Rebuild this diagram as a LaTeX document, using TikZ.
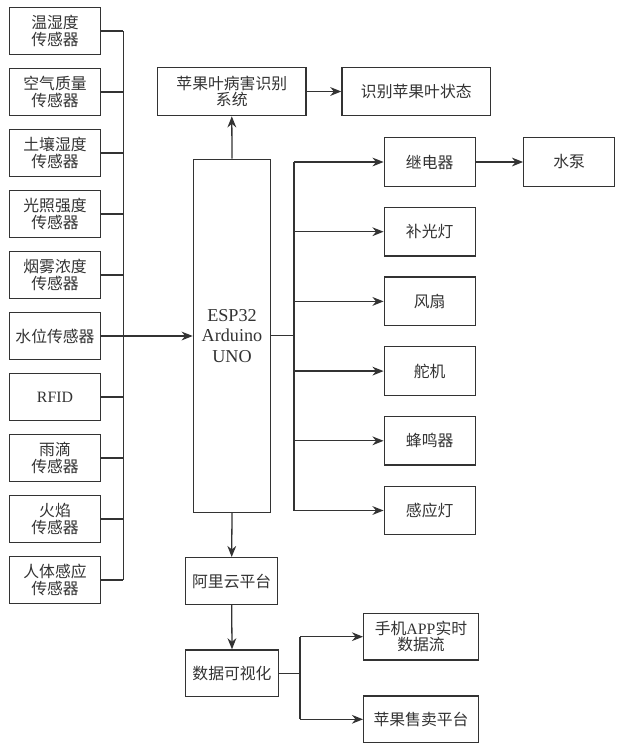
\documentclass[tikz,border=0pt]{standalone}
\usepackage{fontspec}
\setmainfont{Liberation Serif}
\newfontfamily\cjk{Noto Sans CJK SC}
\usetikzlibrary{arrows,arrows.meta}
\definecolor{ink}{HTML}{333333}

\begin{document}
\begin{tikzpicture}[x=0.03cm, y=-0.03cm, >={Stealth[length=9.5pt,width=7.5pt]},
    box/.style={draw=ink, line width=1.1pt, text=ink, align=center, inner sep=0pt,
      font=\cjk\fontsize{13.5}{14}\selectfont},
    sensor/.style={box, minimum width=2.73cm, minimum height=1.43cm},
    act/.style={box, minimum width=2.73cm, minimum height=1.46cm},
    wire/.style={draw=ink, line width=1.1pt}]

  \useasboundingbox[fill=white] (0,0) rectangle (618,750);

  % sensors on the left
  \foreach \t [count=\i] in {{温湿度\\传感器}, {空气质量\\传感器}, {土壤湿度\\传感器},
      {光照强度\\传感器}, {烟雾浓度\\传感器}, {水位传感器}, {\rmfamily RFID},
      {雨滴\\传感器}, {火焰\\传感器}, {人体感应\\传感器}}
    \node[sensor] (S\i) at (55,{31+61*(\i-1)}) {\t};

  \node[box, minimum width=2.32cm, minimum height=10.59cm,
    font=\rmfamily\fontsize{15.5}{17.5}\selectfont] (MCU) at (232,335.8)
    {ESP32\\Arduino\\UNO};

  \node[box, minimum width=4.45cm, minimum height=1.45cm] (ID) at (231.8,91.5)
    {苹果叶病害识别\\系统};
  \node[box, minimum width=4.46cm, minimum height=1.45cm] (ST) at (416.3,91.5)
    {识别苹果叶状态};

  % actuators on the right
  \foreach \t [count=\i] in {继电器, 补光灯, 风扇, 舵机, 蜂鸣器, 感应灯}
    \node[act] (A\i) at (429.7,{162+69.7*(\i-1)}) {\t};
  \node[act] (PUMP) at (569.2,162) {水泵};

  \node[box, minimum width=2.76cm, minimum height=1.4cm] (CLD) at (231.7,581) {阿里云平台};
  \node[box, minimum width=2.78cm, minimum height=1.4cm] (VIS) at (232,673.3) {数据可视化};
  \node[box, minimum width=3.44cm, minimum height=1.4cm] (APP) at (421,636.7)
    {手机{\rmfamily APP}实时\\数据流};
  \node[box, minimum width=3.44cm, minimum height=1.4cm] (SALE) at (421,719.3)
    {苹果售卖平台};

  \coordinate (LB) at (123.3,0);
  \coordinate (RB) at (294,0);
  \coordinate (VB) at (300,0);

  \foreach \i in {1,...,10}
    \draw[wire] (S\i.east) -- (S\i.east -| LB);
  \draw[wire] (S1.east -| LB) -- (S10.east -| LB);
  \draw[wire,->] (S6.east) -- (S6.east -| MCU.west);

  \draw[wire,->] (MCU.north) -- (ID.south);
  \draw[wire,->] (ID.east) -- (ST.west);

  \draw[wire] (MCU.east) -- (MCU.east -| RB);
  \draw[wire] (A1.west -| RB) -- (A6.west -| RB);
  \foreach \i in {1,...,6}
    \draw[wire,->] (A\i.west -| RB) -- (A\i.west);
  \draw[wire,->] (A1.east) -- (PUMP.west);

  \draw[wire,->] (MCU.south) -- (CLD.north);
  \draw[wire,->] (CLD.south) -- (VIS.north);
  \draw[wire] (VIS.east) -- (VIS.east -| VB);
  \draw[wire] (APP.west -| VB) -- (SALE.west -| VB);
  \draw[wire,->] (APP.west -| VB) -- (APP.west);
  \draw[wire,->] (SALE.west -| VB) -- (SALE.west);
\end{tikzpicture}
\end{document}
